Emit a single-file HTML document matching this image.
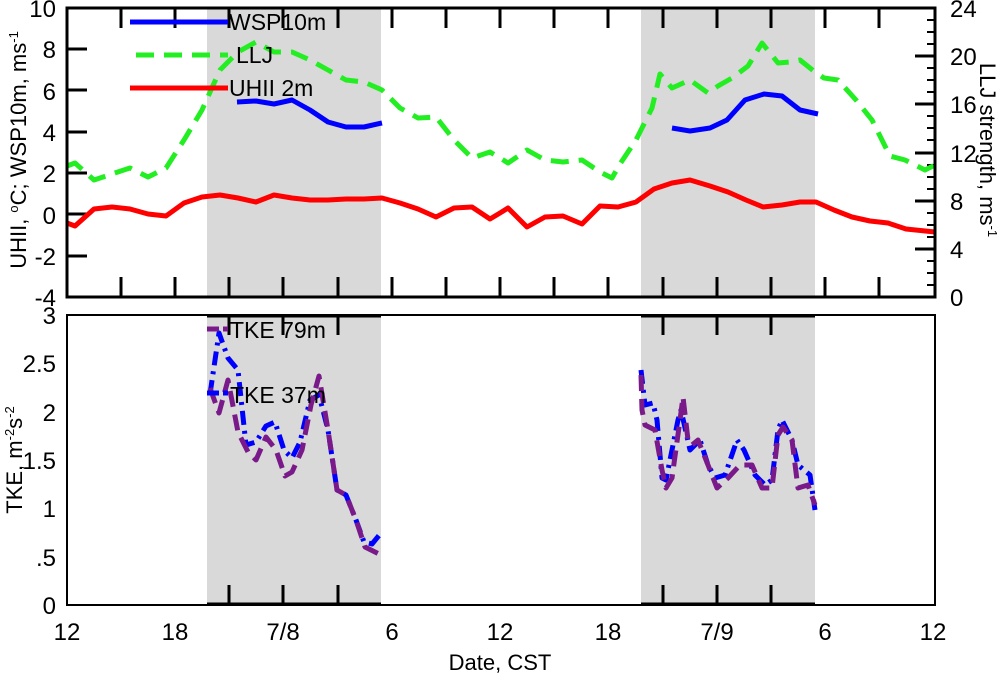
<!DOCTYPE html>
<html><head><style>body{margin:0;background:#fff}svg{display:block;font-family:"Liberation Sans",sans-serif}</style></head><body>
<svg width="1000" height="677" viewBox="0 0 1000 677" xmlns="http://www.w3.org/2000/svg">
<rect x="207" y="8" width="174" height="289" fill="#d9d9d9"/>
<rect x="641" y="8" width="174" height="289" fill="#d9d9d9"/>
<rect x="207" y="315" width="174" height="290" fill="#d9d9d9"/>
<rect x="641" y="315" width="174" height="290" fill="#d9d9d9"/>
<g stroke="#000" stroke-width="3">
<path d="M121,8v20M175,8v20M229,8v20M283,8v20M338,8v20M392,8v20M446,8v20M500,8v20M554,8v20M608,8v20M663,8v20M717,8v20M771,8v20M825,8v20M879,8v20"/>
<path d="M121,297v-20M175,297v-20M229,297v-20M283,297v-20M338,297v-20M392,297v-20M446,297v-20M500,297v-20M554,297v-20M608,297v-20M663,297v-20M717,297v-20M771,297v-20M825,297v-20M879,297v-20"/>
<path d="M67,49h20M67,90h20M67,132h20M67,173h20M67,214h20M67,256h20M935,56h-20M935,104h-20M935,153h-20M935,201h-20M935,249h-20"/>
<path d="M229,315v20M283,315v20M338,315v20M663,315v20M717,315v20M771,315v20M229,605v-20M283,605v-20M338,605v-20M663,605v-20M717,605v-20M771,605v-20"/>
<path d="M207,316h174M641,316h174M207,604h174M641,604h174"/>
</g>
<path stroke="#000" stroke-width="2" d="M935,20h-8M935,32h-8M935,44h-8M935,68h-8M935,80h-8M935,92h-8M935,116h-8M935,128h-8M935,140h-8M935,165h-8M935,177h-8M935,189h-8M935,213h-8M935,225h-8M935,237h-8M935,261h-8M935,273h-8M935,285h-8"/>
<g fill="none" stroke-width="5" stroke-linejoin="round">
<polyline stroke="#ff0000" points="67,223 75,226 94,209 112,207 130,209 148,214 166,216 184,203 202,197 220,195 238,198 256,202 274,195 292,198 310,200 328,200 346,199 364,199 382,198 400,203 418,209 436,217 454,208 472,207 490,219 500,213 508,208 527,227 545,217 563,216 582,224 600,206 618,207 636,202 654,189 672,183 690,180 710,186 728,192 746,200 763,207 782,205 800,202 816,202 834,210 852,217 870,221 888,223 906,229 935,232"/>
<polyline stroke="#22ee22" stroke-dasharray="18,10" points="67,166 75,163 94,180 112,174 130,168 148,177 166,168 184,140 202,110 220,70 238,52 256,42 274,52 292,52 310,60 328,70 346,80 364,82 382,90 400,108 418,118 436,117 454,140 472,158 490,152 500,158 508,163 527,150 545,160 563,162 582,160 600,172 612,178 620,164 636,140 652,108 660,74 672,88 690,80 708,93 718,86 732,78 748,66 762,43 778,63 790,62 800,60 815,72 824,78 838,80 856,100 872,120 890,156 905,160 925,170 935,165"/>
<polyline stroke="#0000ff" points="237,102 256,101 274,104 292,100 310,110 328,122 346,127 364,127 382,123"/>
<polyline stroke="#0000ff" points="672,128 690,131 710,128 727,120 745,100 764,94 782,96 800,110 818,114"/>
<polyline stroke="#0000ff" stroke-dasharray="14,6,3,6" points="210,394 219,333 228,358 238,370 246,445 256,442 266,426 275,422 284,450 292,458 300,442 310,400 319,395 328,430 337,490 346,495 356,520 364,542 372,544 381,533"/>
<polyline stroke="#0000ff" stroke-dasharray="14,6,3,6" points="641,370 645,405 653,403 657,420 662,478 666,480 672,450 678,420 681,410 690,450 700,440 708,465 715,478 725,475 737,440 744,450 755,475 765,485 772,480 778,430 782,420 792,440 798,465 810,475 815,510"/>
<polyline stroke="#7a1a8a" stroke-dasharray="16,8" points="210,388 219,413 228,380 238,432 248,452 256,460 266,437 276,450 285,476 292,472 302,450 311,405 319,376 328,430 337,490 346,495 356,520 365,547 381,555"/>
<polyline stroke="#7a1a8a" stroke-dasharray="16,8" points="641,375 642,410 645,425 655,430 662,470 666,488 672,478 680,420 683,397 688,440 692,445 698,440 708,465 717,488 728,478 740,465 752,465 762,488 772,488 778,435 783,427 792,440 798,488 808,485 815,505"/>
<path stroke="#0000ff" d="M130,22H228"/>
<path stroke="#22ee22" stroke-dasharray="18,10" d="M136,55H228"/>
<path stroke="#ff0000" d="M130,88H228"/>
<path stroke="#7a1a8a" stroke-dasharray="12,4" d="M207,329H228"/>
<path stroke="#0000ff" stroke-dasharray="12,4" d="M207,393H228"/>
</g>
<g fill="none" stroke="#000" stroke-width="3">
<rect x="67" y="8" width="868" height="289"/>
<rect x="67" y="315" width="868" height="290" stroke-width="2"/>
</g>
<g font-size="23" fill="#000">
<text x="229" y="30">WSP10m</text>
<text x="236" y="63">LLJ</text>
<text x="229" y="96">UHII 2m</text>
<text x="230" y="338">TKE 79m</text>
<text x="230" y="403">TKE 37m</text>
</g>
<g font-size="24" text-anchor="end">
<text x="56" y="17">10</text><text x="56" y="58">8</text><text x="56" y="100">6</text><text x="56" y="141">4</text><text x="56" y="182">2</text><text x="56" y="224">0</text><text x="56" y="265">-2</text><text x="56" y="306">-4</text>
<text x="56" y="324">3</text><text x="56" y="372">2.5</text><text x="56" y="421">2</text><text x="56" y="469">1.5</text><text x="56" y="517">1</text><text x="56" y="566">.5</text><text x="56" y="614">0</text>
</g>
<g font-size="24">
<text x="950" y="17">24</text><text x="950" y="65">20</text><text x="950" y="113">16</text><text x="950" y="162">12</text><text x="950" y="210">8</text><text x="950" y="258">4</text><text x="950" y="306">0</text>
</g>
<g font-size="24" text-anchor="middle">
<text x="67" y="640">12</text><text x="175" y="640">18</text><text x="283" y="640">7/8</text><text x="392" y="640">6</text><text x="500" y="640">12</text><text x="608" y="640">18</text><text x="717" y="640">7/9</text><text x="825" y="640">6</text><text x="933" y="640">12</text>
<text x="500" y="670" font-size="22">Date, CST</text>
</g>
<text font-size="22" transform="translate(26,150) rotate(-90)" text-anchor="middle">UHII, <tspan font-size="13" dy="-8">o</tspan><tspan dy="8">C; WSP10m, ms</tspan><tspan font-size="13" dy="-8">-1</tspan></text>
<text font-size="22" transform="translate(980,150) rotate(90)" text-anchor="middle">LLJ strength, ms<tspan font-size="13" dy="-8">-1</tspan></text>
<text font-size="22" transform="translate(22,460) rotate(-90)" text-anchor="middle">TKE, m<tspan font-size="13" dy="-8">-2</tspan><tspan dy="8">s</tspan><tspan font-size="13" dy="-8">-2</tspan></text>
</svg>
</body></html>
